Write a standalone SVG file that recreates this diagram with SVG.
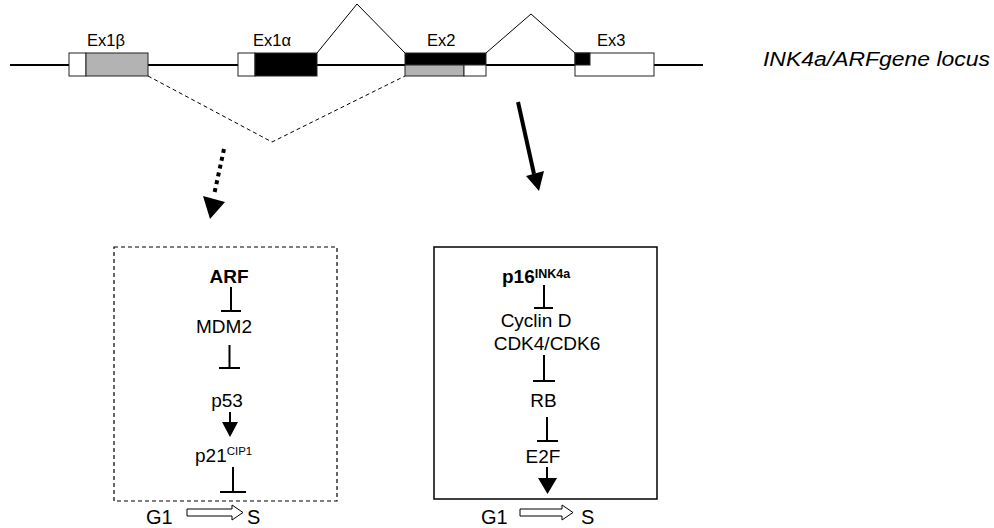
<svg xmlns="http://www.w3.org/2000/svg" width="994" height="528" viewBox="0 0 994 528">
<defs>
<style>
text{font-family:"Liberation Sans",Arial,sans-serif;fill:#000}
.ex{font-size:16.5px}
.t{font-size:19px;text-anchor:middle}
.b{font-weight:bold}
.sup{font-size:11.5px}
.box{stroke:#222;stroke-width:1}
.inh{stroke:#000;stroke-width:2;fill:none}
.thin{stroke:#000;stroke-width:1;fill:none}
.g1{font-size:20px}
.open{fill:#fff;stroke:#000;stroke-width:1}
</style>
</defs>
<rect width="994" height="528" fill="#fff"/>
<g id="locus-line"><line x1="10" y1="65" x2="703" y2="65" stroke="#000" stroke-width="2"/></g>
<g id="ex1b">
<rect x="69" y="53" width="17" height="23" fill="#fff" class="box"/>
<rect x="86" y="53" width="62" height="23" fill="#b3b3b3" class="box"/>
<text class="ex" x="87" y="46">Ex1β</text>
</g>
<g id="ex1a">
<rect x="238" y="53" width="17" height="23" fill="#fff" class="box"/>
<rect x="255" y="53" width="62" height="23" fill="#000" class="box"/>
<text class="ex" x="253" y="46">Ex1α</text>
</g>
<g id="ex2">
<rect x="405" y="53" width="81" height="12" fill="#000" class="box"/>
<rect x="405" y="65" width="59" height="11" fill="#b3b3b3" class="box"/>
<rect x="464" y="65" width="22" height="11" fill="#fff" class="box"/>
<text class="ex" x="427" y="46">Ex2</text>
</g>
<g id="ex3">
<rect x="575" y="53" width="79" height="23" fill="#fff" class="box"/>
<rect x="575" y="53" width="15" height="12" fill="#000" class="box"/>
<text class="ex" x="597" y="46">Ex3</text>
</g>
<g id="locus-label"><text x="763" y="66" font-size="20" font-style="italic" textLength="227" lengthAdjust="spacingAndGlyphs">INK4a/ARFgene locus</text></g>
<g id="arf-box">
<rect x="114" y="247" width="223" height="254" fill="none" stroke="#000" stroke-width="1.2" stroke-dasharray="4 3"/>
</g>
<g id="p16-box">
<rect x="434" y="247" width="223" height="252" fill="none" stroke="#000" stroke-width="1.5"/>
</g>
<g id="arf"><text class="t b" x="229" y="283">ARF</text></g>
<g id="mdm2"><text class="t" x="224" y="333">MDM2</text></g>
<g id="p53"><text class="t" x="227" y="407">p53</text></g>
<g id="p21"><text x="195" y="462" font-size="19">p21<tspan class="sup" dy="-7">CIP1</tspan></text></g>
<g id="g1s-left">
<text class="g1" x="146" y="524">G1</text>
<path class="open" d="M187,509 H232 V505 L243,512.5 L232,520 V516 H187 Z"/>
<text class="g1" x="247" y="524">S</text>
</g>
<g id="p16"><text x="502" y="283" font-size="19" font-weight="bold">p16<tspan font-size="12.5" dy="-5">INK4a</tspan></text></g>
<g id="cyclind"><text class="t" x="536" y="327">Cyclin D</text></g>
<g id="cdk"><text class="t" x="547" y="350">CDK4/CDK6</text></g>
<g id="rb"><text class="t" x="543.5" y="407">RB</text></g>
<g id="e2f"><text class="t" x="543" y="463">E2F</text></g>
<g id="g1s-right">
<text class="g1" x="481" y="524">G1</text>
<path class="open" d="M520,509 H562 V505 L573,512.5 L562,520 V516 H520 Z"/>
<text class="g1" x="581" y="524">S</text>
</g>
<g id="connectors">
<polyline class="thin" points="317,53 357,4 405,53"/>
<polyline class="thin" points="486,53 531,14 575,53"/>
<polyline class="thin" stroke-dasharray="4 3" points="148,76 272,142 405,76"/>
<line x1="224" y1="149" x2="214" y2="195" stroke="#000" stroke-width="4" stroke-dasharray="4 4"/>
<polygon points="203,196 225,202 210,219" fill="#000"/>
<line x1="518" y1="102" x2="534" y2="174" stroke="#000" stroke-width="4"/>
<polygon points="526,176 544,171 539,191" fill="#000"/>
<path class="inh" d="M231,287 V311 M221,311 H241"/>
<path class="inh" d="M229.5,345 V368 M219,368 H240"/>
<line x1="230" y1="412" x2="230" y2="423" stroke="#000" stroke-width="2"/>
<polygon points="222,422 238,422 230,437" fill="#000"/>
<path class="inh" d="M233,467 V492 M220,492 H246"/>
<path class="inh" d="M544,285 V308 M534,308 H553"/>
<path class="inh" d="M544,355 V381 M533,381 H555"/>
<path class="inh" d="M547,417 V441 M537,441 H558"/>
<line x1="547" y1="467" x2="547" y2="479" stroke="#000" stroke-width="2"/>
<polygon points="538,478 557,478 547.5,494" fill="#000"/>
</g>
</svg>
